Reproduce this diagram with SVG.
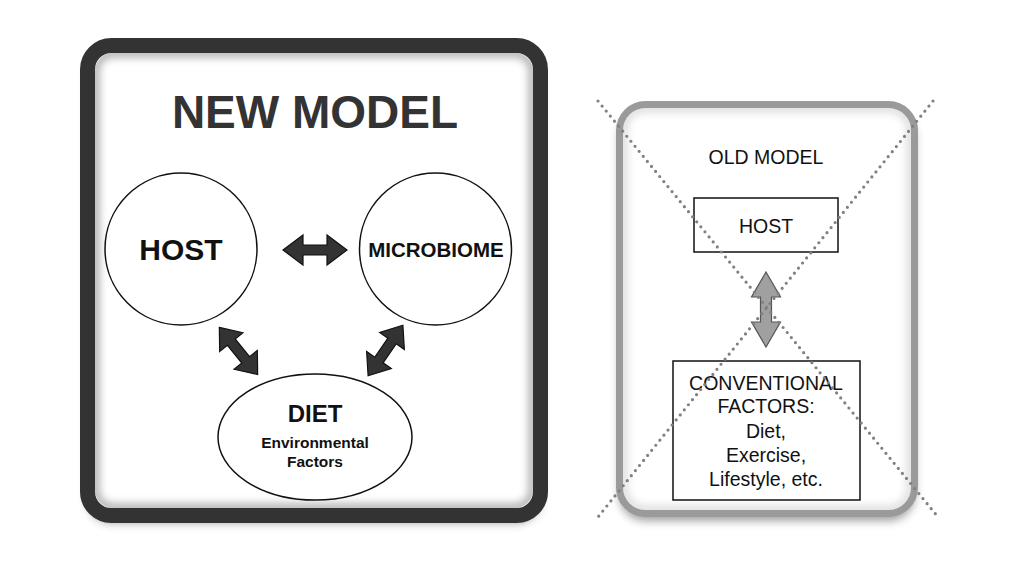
<svg xmlns="http://www.w3.org/2000/svg" width="1024" height="576" viewBox="0 0 1024 576">
  <style>
    .t { font-family: "Liberation Sans", Arial, sans-serif; text-anchor: middle; }
    .b { font-weight: bold; }
    .node { fill: #fff; stroke: #111; stroke-width: 1.5; }
    .dark { fill: #333; stroke: #111; stroke-width: 1.2; stroke-linejoin: miter; }
    .grey { fill: #a0a0a0; stroke: #555; stroke-width: 1.2; }
    .dots { stroke: #808080; stroke-width: 3.2; stroke-linecap: round; stroke-dasharray: 0 6.5; fill: none; }
  </style>
  <defs>
    <filter id="shadow" x="-10%" y="-10%" width="120%" height="125%">
      <feDropShadow dx="0" dy="7" stdDeviation="5" flood-color="#000" flood-opacity="0.4"/>
    </filter>
    <filter id="blur" x="-5%" y="-5%" width="110%" height="110%">
      <feGaussianBlur stdDeviation="4"/>
    </filter>
    <path id="dbl" d="M -32 0 L -12 -15 L -12 -5 L 12 -5 L 12 -15 L 32 0 L 12 15 L 12 5 L -12 5 L -12 15 Z"/>
    <clipPath id="clipL"><rect x="95" y="53" width="438" height="455" rx="18"/></clipPath>
    <clipPath id="clipR"><rect x="623" y="108" width="288" height="402" rx="22"/></clipPath>
  </defs>
  <rect width="1024" height="576" fill="#fff"/>

  <!-- NEW MODEL frame -->
  <g id="new-model-frame">
    <rect x="87.5" y="45.5" width="453" height="470" rx="24" fill="#fff" filter="url(#shadow)"/>
    <rect x="95" y="53" width="438" height="455" rx="18" fill="none" stroke="#000" stroke-opacity="0.35" stroke-width="8" filter="url(#blur)" clip-path="url(#clipL)"/>
    <rect x="87.5" y="45.5" width="453" height="470" rx="24" fill="none" stroke="#333" stroke-width="15"/>
    <text class="t b" x="315" y="128" font-size="46" fill="#333">NEW MODEL</text>
  </g>

  <!-- OLD MODEL frame -->
  <g id="old-model-frame">
    <rect x="619.5" y="104.5" width="295" height="409" rx="26" fill="#fff" filter="url(#shadow)"/>
    <rect x="623" y="108" width="288" height="402" rx="22" fill="none" stroke="#000" stroke-opacity="0.15" stroke-width="8" filter="url(#blur)" clip-path="url(#clipR)"/>
    <rect x="619.5" y="104.5" width="295" height="409" rx="26" fill="none" stroke="#9a9a9a" stroke-width="7"/>
    <text class="t" x="766" y="164" font-size="19.5" fill="#111">OLD MODEL</text>
  </g>

  <g id="host">
    <circle class="node" cx="181" cy="249" r="76"/>
    <text class="t b" x="181" y="260" font-size="30" fill="#111">HOST</text>
  </g>
  <g id="microbiome">
    <circle class="node" cx="435.5" cy="249" r="76"/>
    <text class="t b" x="436" y="257" font-size="20.5" fill="#111">MICROBIOME</text>
  </g>
  <g id="diet">
    <ellipse class="node" cx="315" cy="437" rx="97" ry="63"/>
    <text class="t b" x="315" y="422" font-size="24" fill="#111">DIET</text>
    <text class="t b" x="315" y="448" font-size="15.5" fill="#111">Environmental</text>
    <text class="t b" x="315" y="467" font-size="15.5" fill="#111">Factors</text>
  </g>

  <g id="old-host">
    <rect x="694" y="198" width="144" height="54" fill="#fff" stroke="#111" stroke-width="1.5"/>
    <text class="t" x="766" y="233" font-size="19.5" fill="#111">HOST</text>
  </g>
  <g id="conventional-factors">
    <rect x="673" y="361" width="187" height="139" fill="#fff" stroke="#111" stroke-width="1.5"/>
    <text class="t" x="766" y="390" font-size="19.5" fill="#111">CONVENTIONAL</text>
    <text class="t" x="766" y="413" font-size="19.5" fill="#111">FACTORS:</text>
    <text class="t" x="766" y="438" font-size="19.5" fill="#111">Diet,</text>
    <text class="t" x="766" y="462" font-size="19.5" fill="#111">Exercise,</text>
    <text class="t" x="766" y="486" font-size="19.5" fill="#111">Lifestyle, etc.</text>
  </g>

  <g id="connectors">
    <use href="#dbl" class="dark" transform="translate(315 250)"/>
    <use href="#dbl" class="dark" transform="translate(238.5 351) rotate(50.9) scale(0.95 1)"/>
    <use href="#dbl" class="dark" transform="translate(385.5 350.5) rotate(-55.5) scale(0.96 1)"/>
    <path class="grey" d="M 766 272 L 780.5 297 L 771.5 297 L 771.5 322 L 780.5 322 L 766 347 L 751.5 322 L 760.5 322 L 760.5 297 L 751.5 297 Z"/>
  </g>

  <g id="cross-out">
    <line class="dots" x1="598" y1="101" x2="938" y2="517"/>
    <line class="dots" x1="933" y1="101" x2="598" y2="517"/>
  </g>
</svg>
